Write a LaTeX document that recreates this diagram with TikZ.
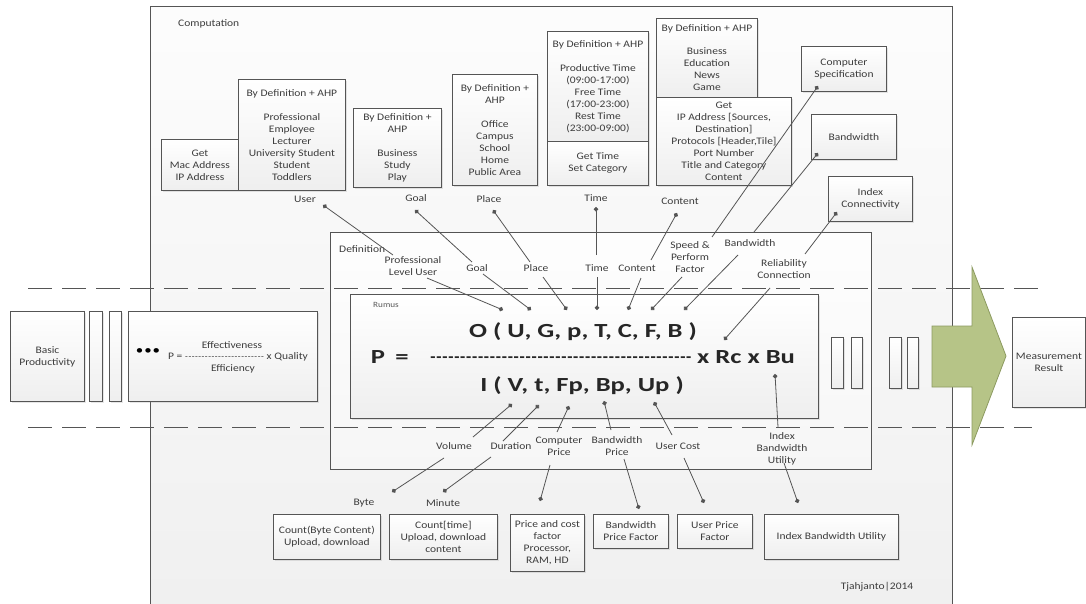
\documentclass[tikz,border=0pt]{standalone}
\usepackage{fontspec}
\setmainfont{Carlito}[FakeStretch=1.15]
\newfontfamily\fml{Carlito}[FakeStretch=1.33]
\newfontfamily\fmh{Carlito}
\usetikzlibrary{arrows.meta,shadows}
\definecolor{ln}{HTML}{555555}
\definecolor{tx}{HTML}{3C3C3C}
\definecolor{fx}{HTML}{262626}
\definecolor{agreen}{HTML}{B6C487}
\definecolor{aedge}{HTML}{8C9A60}
\newcommand\hyrow[2]{\foreach \i in {1,...,#1}{\hbox to #2{\hss-\hss}}}
\begin{document}
\begin{tikzpicture}[x=1pt,y=-1pt,
  fs/.style={font=\fontsize{10}{12}\selectfont},
  box/.style={draw=ln, line width=0.8pt, top color=white, bottom color=gray!13,
    drop shadow={opacity=0.2, shadow xshift=1.8pt, shadow yshift=-1.8pt},
    align=center, text=tx, fs, inner sep=1pt, anchor=north west},
  lbl/.style={text=tx, fs, align=center, inner sep=0pt},
  conn/.style={draw=ln, line width=0.8pt},
  dotc/.style={conn, -{Circle[length=4.5pt,width=4.5pt]}},
  fm/.style={font=\fml\bfseries\fontsize{20}{24}\selectfont, text=fx, inner sep=0pt, anchor=base},
  dashline/.style={draw=ln, line width=0.9pt, dash pattern=on 24pt off 10pt},
]
\useasboundingbox (0,0) rectangle (1086,603);

% containers
\node[draw=ln, line width=1pt, top color=gray!2, bottom color=gray!12, minimum width=802pt, minimum height=610pt, anchor=north west, inner sep=0pt] (comp) at (150,6) {};
\node[lbl, anchor=west] (compL) at (178,24) {Computation};

\node[draw=ln, line width=0.9pt, top color=gray!1, bottom color=gray!7, minimum width=541pt, minimum height=237pt, anchor=north west, inner sep=0pt] (defn) at (330,232) {};
\node[lbl, anchor=west] (defnL) at (339,249) {Definition};

% dashed lines
\coordinate (da1) at (28,288); \coordinate (db1) at (1040,288);
\coordinate (da2) at (28,427); \coordinate (db2) at (1032,427);
\draw[dashline] (da1) -- (db1);
\draw[dashline] (da2) -- (db2);

\node[box, minimum width=468pt, minimum height=124pt] (rumus) at (350,294) {};
\node[lbl, anchor=west, font=\fontsize{8}{9}\selectfont, text=gray!70!black] (rumusL) at (373,305) {Rumus};

% formula
\node[fm] (fO) at (583,337) {O ( U, G, p, T, C, F, B )};
\node[fm] (fP) at (378,363) {P};
\node[fm] (fEq) at (402,363) {=};
\node[fm, font=\fmh\bfseries\fontsize{17}{18}\selectfont] (fBar) at (561,362) {\hyrow{44}{5.95pt}};
\node[fm, anchor=base west] (fRest) at (697,363) {x Rc x Bu};
\node[fm] (fI) at (582,391) {I ( V, t, Fp, Bp, Up )};

% top row boxes
\node[box, minimum width=77pt, minimum height=51pt] (getmac) at (161,139) {Get\\Mac Address\\IP Address};
\node[box, minimum width=107pt, minimum height=111pt] (userB) at (238,79) {By Definition + AHP\\[12pt]Professional\\Employee\\Lecturer\\University Student\\Student\\Toddlers};
\node[box, minimum width=88pt, minimum height=79pt] (goalB) at (353,108) {By Definition +\\AHP\\[12pt]Business\\Study\\Play};
\node[box, minimum width=85pt, minimum height=111pt] (placeB) at (452,74) {By Definition +\\AHP\\[12pt]Office\\Campus\\School\\Home\\Public Area};
\node[box, minimum width=101pt, minimum height=110pt] (timeA) at (547,31) {By Definition + AHP\\[12pt]Productive Time\\(09:00-17:00)\\Free Time\\(17:00-23:00)\\Rest Time\\(23:00-09:00)};
\node[box, minimum width=101pt, minimum height=44pt] (timeB) at (547,141) {Get Time\\Set Category};
\node[box, minimum width=101pt, minimum height=79pt] (contA) at (656,18) {By Definition + AHP\\[11pt]Business\\Education\\News\\Game};
\node[box, minimum width=135pt, minimum height=88pt] (contB) at (656,97) {Get\\IP Address [Sources,\\Destination]\\Protocols [Header,Tile]\\Port Number\\Title and Category\\Content};
\node[box, minimum width=85pt, minimum height=45pt] (cspec) at (801,46) {Computer\\Specification};
\node[box, minimum width=85pt, minimum height=45pt] (bwB) at (811,114) {Bandwidth};
\node[box, minimum width=84pt, minimum height=45pt] (icB) at (828,176) {Index\\Connectivity};

% top labels
\node[lbl] (lUser) at (305,199) {User};
\node[lbl] (lGoal) at (416,198) {Goal};
\node[lbl] (lPlace) at (489,199) {Place};
\node[lbl] (lTime) at (596,198) {Time};
\node[lbl] (lCont) at (680,201) {Content};

% definition labels
\node[lbl] (lPLU) at (413,266) {Professional\\Level User};
\node[lbl] (lGoalD) at (477,268) {Goal};
\node[lbl] (lPlaceD) at (536,268) {Place};
\node[lbl] (lTimeD) at (597,268) {Time};
\node[lbl] (lContD) at (637,268) {Content};
\node[lbl] (lSpeed) at (690,257) {Speed \&\\Perform\\Factor};
\node[lbl] (lBWD) at (750,243) {Bandwidth};
\node[lbl] (lRel) at (784,269) {Reliability\\Connection};

% bottom labels
\node[lbl] (lVol) at (454,446) {Volume};
\node[lbl] (lDur) at (511,446) {Duration};
\node[lbl] (lCP) at (559,446) {Computer\\Price};
\node[lbl] (lBP) at (617,446) {Bandwidth\\Price};
\node[lbl] (lUC) at (678,446) {User Cost};
\node[lbl] (lIBU) at (782,449) {Index\\Bandwidth\\Utility};
\node[lbl] (lByte) at (364,503) {Byte};
\node[lbl] (lMin) at (443,503) {Minute};

% bottom boxes
\node[box, minimum width=107pt, minimum height=45pt] (cbyte) at (273,514) {Count(Byte Content)\\Upload, download};
\node[box, minimum width=108pt, minimum height=45pt] (ctime) at (389,514) {Count[time]\\Upload, download\\content};
\node[box, minimum width=74pt, minimum height=57pt] (price) at (510,514) {Price and cost\\factor\\Processor,\\RAM, HD};
\node[box, minimum width=75pt, minimum height=34pt] (bpf) at (593,514) {Bandwidth\\Price Factor};
\node[box, minimum width=75pt, minimum height=34pt] (upf) at (677,514) {User Price\\Factor};
\node[box, minimum width=134pt, minimum height=45pt] (ibu) at (764,514) {Index Bandwidth Utility};
\node[lbl] (sign) at (877,587) {Tjahjanto|2014};

% left side
\node[box, minimum width=74pt, minimum height=90pt] (basic) at (10,311) {Basic\\Productivity};
\node[box, minimum width=13pt, minimum height=90pt] (barA) at (89,311) {};
\node[box, minimum width=12pt, minimum height=90pt] (barB) at (109,311) {};
\node[box, minimum width=189pt, minimum height=90pt] (eff) at (128,311) {};
\node[lbl, font=\fontsize{13}{13}\selectfont, text=black] (ell) at (148,352) {•\kern1pt•\kern1pt•};
\node[lbl] (effT) at (232,345) {Effectiveness};
\node[lbl] (effM) at (238,357) {P = {\fmh\fontsize{9}{10}\selectfont\hyrow{24}{3.3pt}} x Quality};
\node[lbl] (effB) at (233,369) {Efficiency};

% right side bars
\node[box, minimum width=12pt, minimum height=51pt] (barC) at (831,337) {};
\node[box, minimum width=11pt, minimum height=51pt] (barD) at (851,337) {};
\node[box, minimum width=12pt, minimum height=51pt] (barE) at (889,337) {};
\node[box, minimum width=11pt, minimum height=51pt] (barF) at (907,337) {};

% green arrow
\draw[fill=agreen, draw=aedge, line width=0.8pt] (932,326) -- (972,326) -- (972,267) -- (1006,356) -- (972,445) -- (972,387) -- (932,387) -- cycle;

\node[box, minimum width=73pt, minimum height=90pt] (meas) at (1012,317) {Measurement\\Result};

% connector coordinates: top
\coordinate (dUserT) at (323,205);   \coordinate (eUser) at (393,255);
\coordinate (sPLU) at (427,278);     \coordinate (dU) at (503,310);
\coordinate (dGoalT) at (415,210);   \coordinate (eGoal) at (472,262);
\coordinate (sGoal) at (483,274);    \coordinate (dG) at (531,310);
\coordinate (dPlaceT) at (493,210);  \coordinate (ePlace) at (530,262);
\coordinate (sPlace) at (543,277);   \coordinate (dp) at (567,310);
\coordinate (dTimeT) at (596,207);   \coordinate (eTime) at (596,255);
\coordinate (sTime) at (597,277);    \coordinate (dT) at (597,310);
\coordinate (dContT) at (677,213);   \coordinate (eCont) at (651,260);
\coordinate (sCont) at (641,278);    \coordinate (dC) at (628,310);
\coordinate (dCS) at (818,86);       \coordinate (eCS) at (712,237);
\coordinate (sSpeed) at (682,277);   \coordinate (dF) at (651,310);
\coordinate (dBW) at (818,153);      \coordinate (eBW) at (754,232);
\coordinate (sBW) at (738,255);      \coordinate (dB) at (684,310);
\coordinate (dIC) at (837,212);      \coordinate (eIC) at (805,254);
\coordinate (sRel) at (770,288);     \coordinate (dRc) at (724,340);

\draw[dotc] (eUser) -- (dUserT);  \draw[dotc] (sPLU) -- (dU);
\draw[dotc] (eGoal) -- (dGoalT);  \draw[dotc] (sGoal) -- (dG);
\draw[dotc] (ePlace) -- (dPlaceT);\draw[dotc] (sPlace) -- (dp);
\draw[dotc] (eTime) -- (dTimeT);  \draw[dotc] (sTime) -- (dT);
\draw[dotc] (eCont) -- (dContT);  \draw[dotc] (sCont) -- (dC);
\draw[dotc] (eCS) -- (dCS);       \draw[dotc] (sSpeed) -- (dF);
\draw[dotc] (eBW) -- (dBW);       \draw[dotc] (sBW) -- (dB);
\draw[dotc] (eIC) -- (dIC);       \draw[dotc] (sRel) -- (dRc);

% connector coordinates: bottom
\coordinate (dV) at (512,404);   \coordinate (eVol) at (473,437);
\coordinate (sVol) at (444,458); \coordinate (dByte) at (392,492);
\coordinate (dt) at (539,405);   \coordinate (eDur) at (503,441);
\coordinate (sDur) at (491,457); \coordinate (dMin) at (443,492);
\coordinate (dFp) at (569,406);  \coordinate (eCP) at (557,432);
\coordinate (sCP) at (550,465);  \coordinate (dCPF) at (540,501);
\coordinate (dBp) at (604,401);  \coordinate (eBP) at (611,430);
\coordinate (sBP) at (624,459);  \coordinate (dBPF) at (639,509);
\coordinate (dUp) at (654,402);  \coordinate (eUC) at (672,435);
\coordinate (sUC) at (684,458);  \coordinate (dUPF) at (704,503);
\coordinate (dBu) at (775,374);  \coordinate (eIBU) at (778,427);
\coordinate (sIBU) at (784,463); \coordinate (dIBU) at (798,503);

\draw[dotc] (eVol) -- (dV);  \draw[dotc] (sVol) -- (dByte);
\draw[dotc] (eDur) -- (dt);  \draw[dotc] (sDur) -- (dMin);
\draw[dotc] (eCP) -- (dFp);  \draw[dotc] (sCP) -- (dCPF);
\draw[dotc] (eBP) -- (dBp);  \draw[dotc] (sBP) -- (dBPF);
\draw[dotc] (eUC) -- (dUp);  \draw[dotc] (sUC) -- (dUPF);
\draw[dotc] (eIBU) -- (dBu); \draw[dotc] (sIBU) -- (dIBU);
\end{tikzpicture}
\end{document}
